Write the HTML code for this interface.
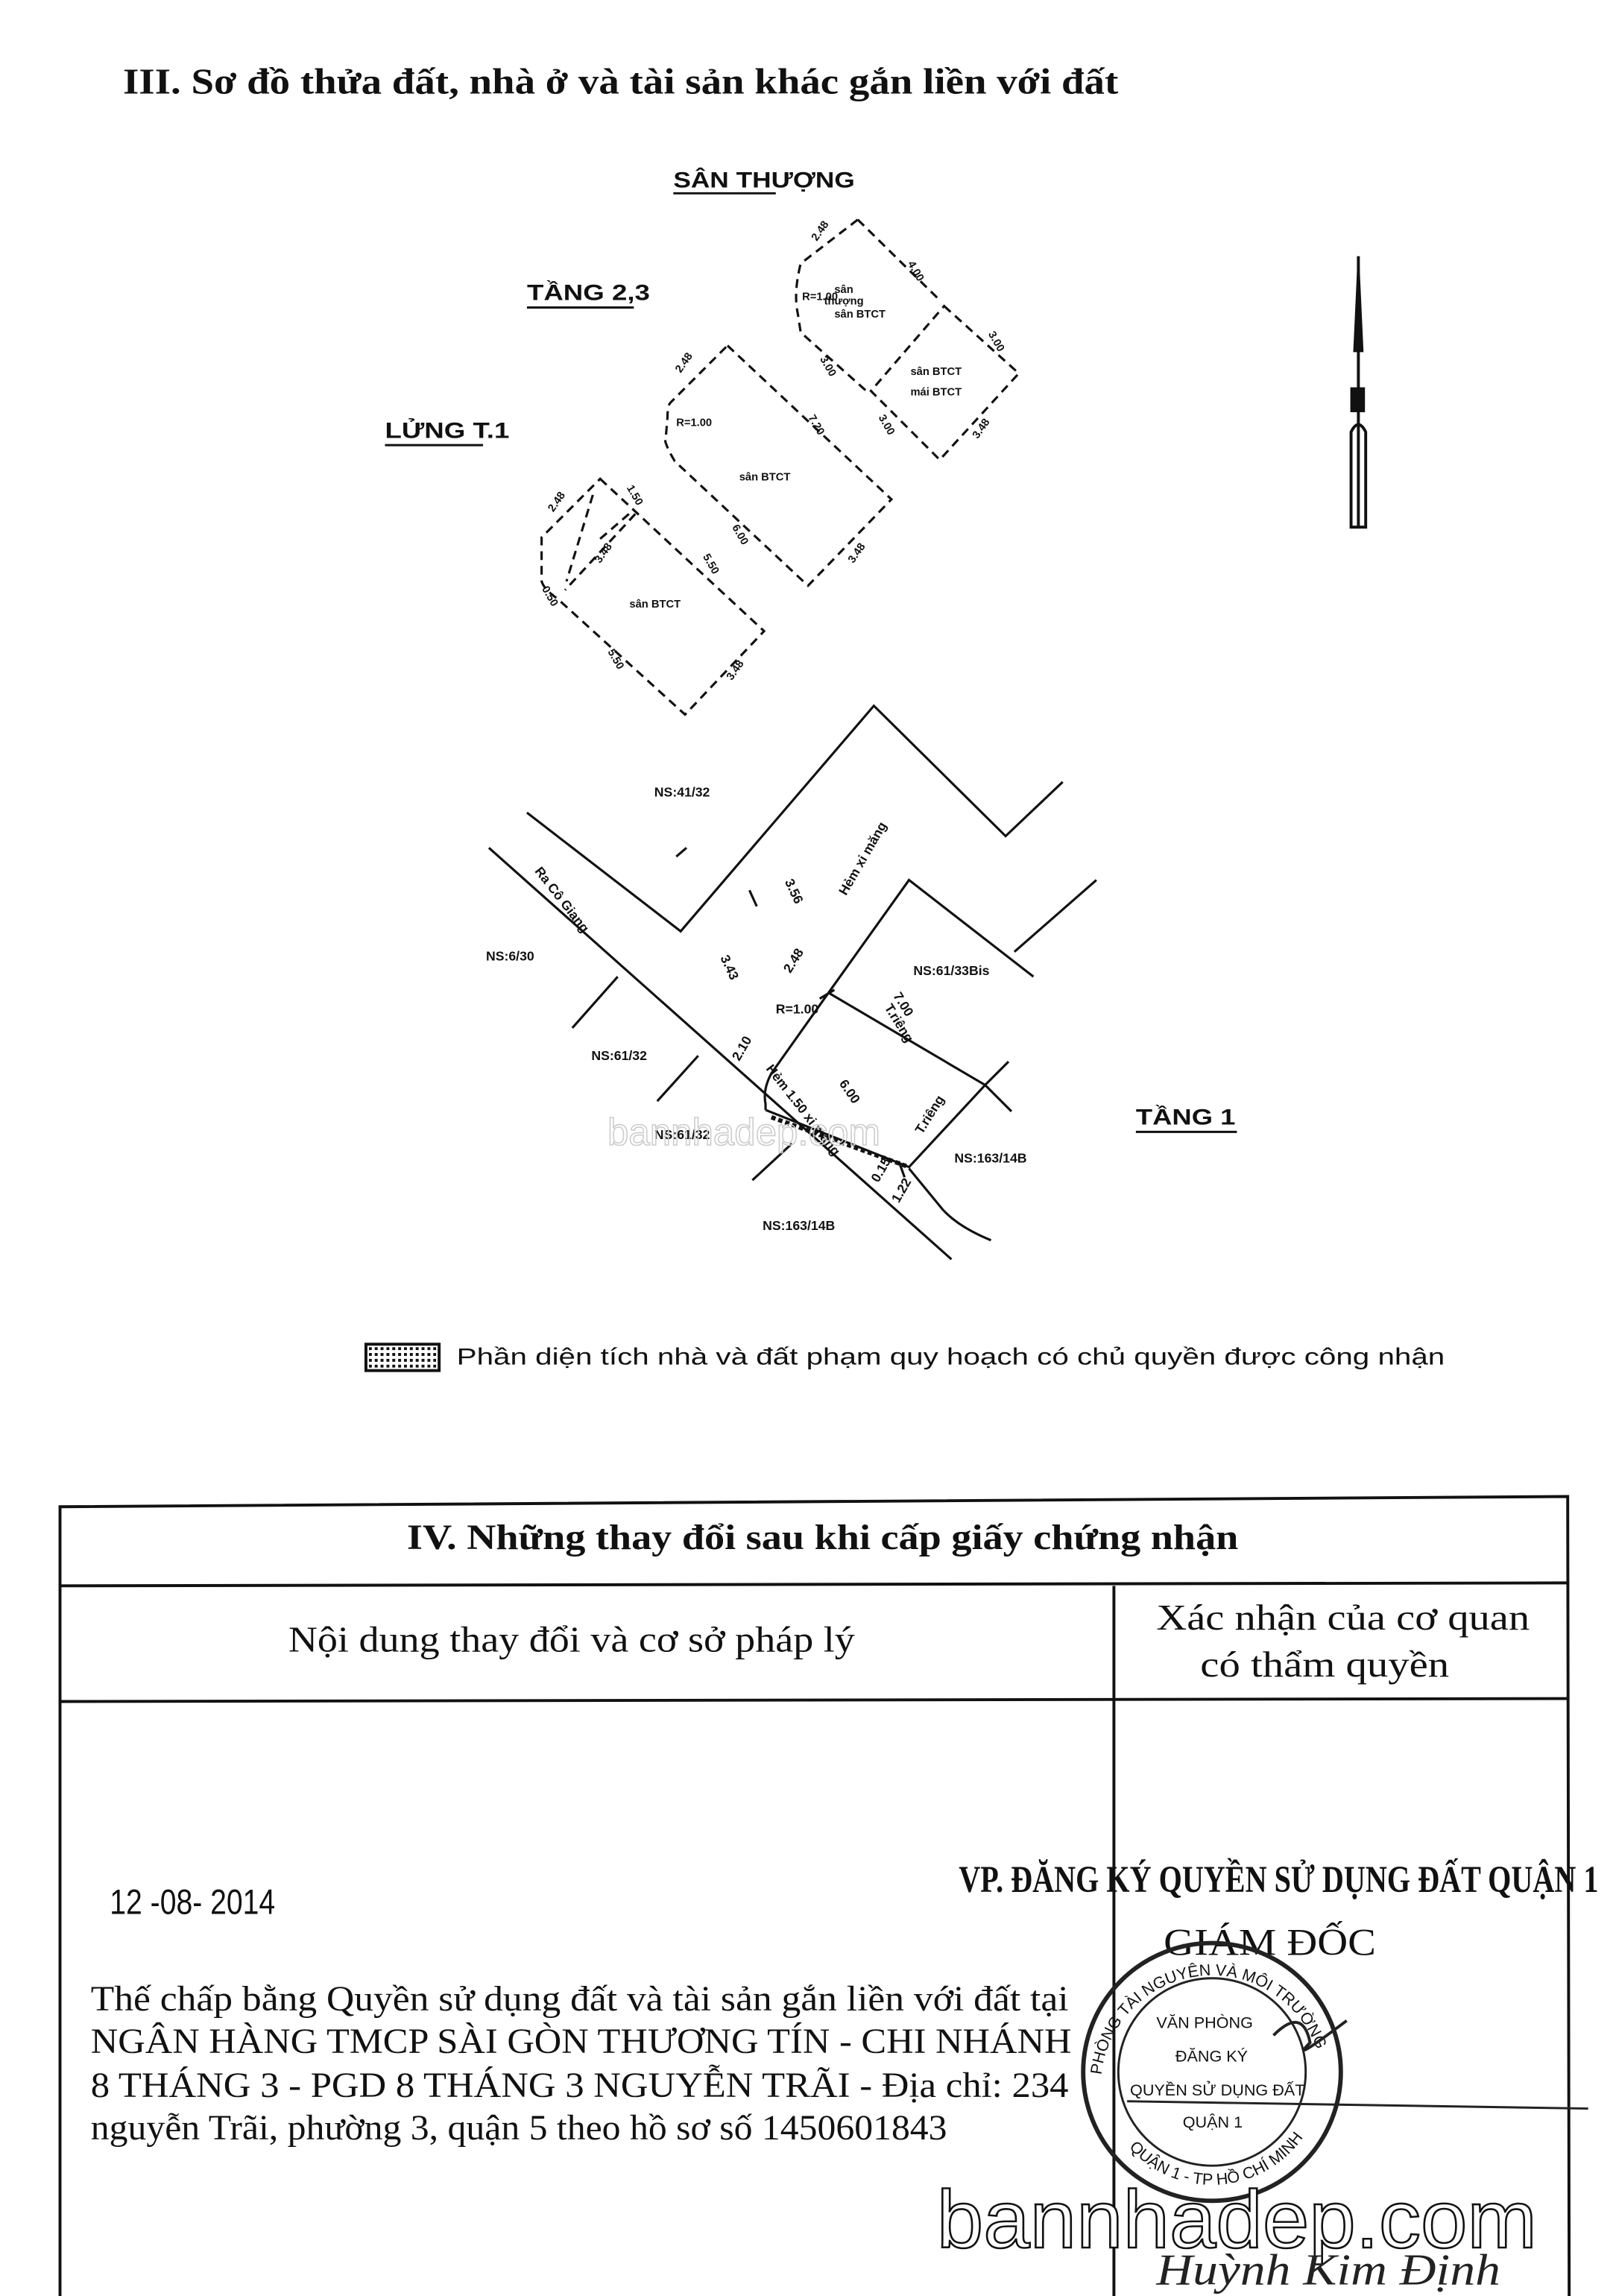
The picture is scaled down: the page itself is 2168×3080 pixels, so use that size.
<!DOCTYPE html>
<html><head><meta charset="utf-8"><style>
html,body{margin:0;padding:0;background:#fff;}
svg{display:block;}
.s{font-family:"Liberation Sans","DejaVu Sans",sans-serif;font-weight:bold;fill:#111;}
.n{font-family:"Liberation Sans","DejaVu Sans",sans-serif;font-weight:normal;fill:#111;}
.r{font-family:"Liberation Serif","DejaVu Serif",serif;fill:#111;}
</style></head><body>
<svg width="2168" height="3080" viewBox="0 0 1104 1568" preserveAspectRatio="none" xmlns="http://www.w3.org/2000/svg">
<rect width="1104" height="1568" fill="#fff"/>
<text class="r" x="84" y="64" font-size="25" font-weight="bold" textLength="680" lengthAdjust="spacingAndGlyphs">III. Sơ đồ thửa đất, nhà ở và tài sản khác gắn liền với đất</text>

<text class="s" x="460" y="128" font-size="15" textLength="124" lengthAdjust="spacingAndGlyphs">SÂN THƯỢNG</text>
<line x1="460" y1="132" x2="530" y2="132" stroke="#111" stroke-width="1.5"/>
<text class="s" x="360" y="205" font-size="15" textLength="84" lengthAdjust="spacingAndGlyphs">TẦNG 2,3</text>
<line x1="360" y1="210" x2="433" y2="210" stroke="#111" stroke-width="1.5"/>
<text class="s" x="263" y="299" font-size="15" textLength="85" lengthAdjust="spacingAndGlyphs">LỬNG T.1</text>
<line x1="263" y1="304" x2="330" y2="304" stroke="#111" stroke-width="1.5"/>

<g fill="none" stroke="#111" stroke-width="1.6" stroke-dasharray="6,4">
<path d="M586,150 L643,206 M586,150 L547,180 Q542,200 545,214 L547,227 L593,268"/>
<path d="M645,209 L696,255 L642,314 L595,267 Z"/>
<path d="M497,236 L609,341 L552,400 L461,315 Q452,300 455,297 L456,285 Q456,277 458,275 Z"/>
<path d="M410,327 L522,431 L468,488 L381,409 Q368,400 370,393 L370,367 Z"/>
<path d="M434,351 L386,403 M405,338 L387,397 M410,368 L432,349"/>
</g>
<g class="s" font-size="7.5">
<text x="570" y="200">sân</text><text x="563" y="208">thượng</text><text x="570" y="217">sân BTCT</text>
<text x="622" y="256">sân BTCT</text><text x="622" y="270">mái BTCT</text>
<text x="505" y="328">sân BTCT</text>
<text x="430" y="415">sân BTCT</text>
<text x="548" y="205">R=1.00</text><text x="462" y="291">R=1.00</text>
<text x="620" y="180" transform="rotate(60 620 180)">4.00</text>
<text x="558" y="165" transform="rotate(-55 558 165)">2.48</text>
<text x="675" y="228" transform="rotate(60 675 228)">3.00</text>
<text x="600" y="285" transform="rotate(60 600 285)">3.00</text>
<text x="560" y="245" transform="rotate(60 560 245)">3.00</text>
<text x="668" y="300" transform="rotate(-55 668 300)">3.48</text>
<text x="465" y="255" transform="rotate(-55 465 255)">2.48</text>
<text x="552" y="285" transform="rotate(60 552 285)">7.20</text>
<text x="500" y="360" transform="rotate(60 500 360)">6.00</text>
<text x="583" y="385" transform="rotate(-55 583 385)">3.48</text>
<text x="378" y="350" transform="rotate(-55 378 350)">2.48</text>
<text x="428" y="333" transform="rotate(60 428 333)">1.50</text>
<text x="410" y="385" transform="rotate(-55 410 385)">3.48</text>
<text x="480" y="380" transform="rotate(60 480 380)">5.50</text>
<text x="415" y="445" transform="rotate(60 415 445)">5.50</text>
<text x="370" y="402" transform="rotate(60 370 402)">0.50</text>
<text x="500" y="465" transform="rotate(-55 500 465)">3.48</text>
</g>

<g fill="none" stroke="#111" stroke-width="1.6">
<path d="M360,555 L465,636 L597,482 L687,571 L726,534"/>
<path d="M334,579 L650,860"/>
<path d="M422,667 L391,702 M477,721 L449,752 M541,781 L514,806"/>
<path d="M566,678 L621,601 L706,667 M693,650 L749,601"/>
<path d="M566,678 L673,741 M566,678 L527,733 Q521,744 523,754 L523,758"/>
<path d="M523,758 L621,797 L673,741 M673,741 L691,759 M673,741 L689,725"/>
<path d="M621,798 L644,826 Q655,838 677,847"/>
<path d="M512,608 L517,619 M462,585 L469,579 M560,682 L570,676 M614,793 L618,804"/>
</g>
<path d="M527,763 L621,797" stroke="#111" stroke-width="3" stroke-dasharray="3,2" fill="none"/>
<g class="s" font-size="9">
<text x="447" y="544">NS:41/32</text>
<text x="332" y="656">NS:6/30</text>
<text x="624" y="666">NS:61/33Bis</text>
<text x="404" y="724">NS:61/32</text>
<text x="447" y="778">NS:61/32</text>
<text x="652" y="794">NS:163/14B</text>
<text x="521" y="840">NS:163/14B</text>
<text x="530" y="692">R=1.00</text>
<text x="578" y="612" transform="rotate(-60 578 612)">Hẻm xi măng</text>
<text x="365" y="595" transform="rotate(52 365 595)">Ra Cô Giang</text>
<text x="523" y="730" transform="rotate(52 523 730)">Hẻm 1.50 xi măng</text>
<text x="610" y="680" transform="rotate(58 610 680)">7.00</text>
<text x="604" y="688" transform="rotate(58 604 688)">T.riêng</text>
<text x="630" y="775" transform="rotate(-58 630 775)">T.riêng</text>
<text x="573" y="740" transform="rotate(55 573 740)">6.00</text>
<text x="536" y="602" transform="rotate(65 536 602)">3.56</text>
<text x="492" y="654" transform="rotate(65 492 654)">3.43</text>
<text x="540" y="665" transform="rotate(-58 540 665)">2.48</text>
<text x="505" y="725" transform="rotate(-60 505 725)">2.10</text>
<text x="600" y="808" transform="rotate(-60 600 808)">0.15</text>
<text x="614" y="822" transform="rotate(-60 614 822)">1.22</text>
</g>
<text class="s" x="776" y="768" font-size="15" textLength="68" lengthAdjust="spacingAndGlyphs">TẦNG 1</text>
<line x1="776" y1="773" x2="845" y2="773" stroke="#111" stroke-width="1.5"/>
<text x="415" y="782" font-family="Liberation Sans,sans-serif" font-size="26" fill="none" stroke="#ccc" stroke-width="0.8">bannhadep.com</text>

<g stroke="#111" fill="#111">
<path d="M928,175 L925,240 L931,240 Z"/>
<line x1="928" y1="175" x2="928" y2="360" stroke-width="2"/>
<rect x="923" y="265" width="9" height="16"/>
<path d="M923,295 Q928,285 933,295 L933,360 L923,360 Z" fill="none" stroke-width="2"/>
</g>

<rect x="250" y="918" width="50" height="18" fill="#fff" stroke="#111" stroke-width="2"/>
<pattern id="h" width="4" height="4" patternUnits="userSpaceOnUse"><rect width="2" height="2" fill="#111"/></pattern>
<rect x="252" y="920" width="46" height="14" fill="url(#h)"/>
<text class="n" x="312" y="932" font-size="16" textLength="675" lengthAdjust="spacingAndGlyphs">Phần diện tích nhà và đất phạm quy hoạch có chủ quyền được công nhận</text>

<g stroke="#111" stroke-width="2" fill="none">
<path d="M41,1568 L41,1029 L1071,1022 L1072,1568"/>
<line x1="41" y1="1083" x2="1072" y2="1081"/>
<line x1="41" y1="1162" x2="1072" y2="1160"/>
<line x1="761" y1="1083" x2="761" y2="1568"/>
</g>
<text class="r" x="278" y="1058" font-size="24" font-weight="bold" textLength="568" lengthAdjust="spacingAndGlyphs">IV. Những thay đổi sau khi cấp giấy chứng nhận</text>
<text class="r" x="197" y="1128" font-size="25" textLength="387" lengthAdjust="spacingAndGlyphs">Nội dung thay đổi và cơ sở pháp lý</text>
<text class="r" x="790" y="1113" font-size="25" textLength="255" lengthAdjust="spacingAndGlyphs">Xác nhận của cơ quan</text>
<text class="r" x="820" y="1145" font-size="25" textLength="170" lengthAdjust="spacingAndGlyphs">có thẩm quyền</text>
<text class="n" x="75" y="1307" font-size="24" textLength="113" lengthAdjust="spacingAndGlyphs">12 -08- 2014</text>
<text class="r" x="655" y="1292" font-size="26" font-weight="bold" textLength="437" lengthAdjust="spacingAndGlyphs">VP. ĐĂNG KÝ QUYỀN SỬ DỤNG ĐẤT QUẬN 1</text>
<text class="r" x="795" y="1335" font-size="26" textLength="145" lengthAdjust="spacingAndGlyphs">GIÁM ĐỐC</text>
<g class="r" font-size="24">
<text x="62" y="1373" textLength="668" lengthAdjust="spacingAndGlyphs">Thế chấp bằng Quyền sử dụng đất và tài sản gắn liền với đất tại</text>
<text x="62" y="1402" textLength="670" lengthAdjust="spacingAndGlyphs">NGÂN HÀNG TMCP SÀI GÒN THƯƠNG TÍN - CHI NHÁNH</text>
<text x="62" y="1432" textLength="668" lengthAdjust="spacingAndGlyphs">8 THÁNG 3 - PGD 8 THÁNG 3 NGUYỄN TRÃI - Địa chỉ: 234</text>
<text x="62" y="1461" textLength="585" lengthAdjust="spacingAndGlyphs">nguyễn Trãi, phường 3, quận 5 theo hồ sơ số 1450601843</text>
</g>
<g fill="none" stroke="#222">
<circle cx="828" cy="1415" r="88" stroke-width="3"/>
<circle cx="828" cy="1415" r="64" stroke-width="1.5"/>
</g>
<g class="n" font-size="11">
<text x="790" y="1385">VĂN PHÒNG</text>
<text x="803" y="1408">ĐĂNG KÝ</text>
<text x="772" y="1431">QUYỀN SỬ DỤNG ĐẤT</text>
<text x="808" y="1453">QUẬN 1</text>
</g>
<path id="arcT" d="M752,1425 A76,76 0 0,1 904,1425" fill="none"/>
<path id="arcB" d="M760,1450 A76,76 0 0,0 896,1450" fill="none"/>
<text class="n" font-size="11"><textPath href="#arcT" startOffset="8">PHÒNG TÀI NGUYÊN VÀ MÔI TRƯỜNG</textPath></text>
<text class="n" font-size="11"><textPath href="#arcB" startOffset="20">QUẬN 1 - TP HỒ CHÍ MINH</textPath></text>
<path d="M870,1390 Q890,1370 895,1395 Q880,1410 920,1380" stroke="#222" stroke-width="2" fill="none"/>
<line x1="770" y1="1435" x2="1085" y2="1440" stroke="#222" stroke-width="1.5"/>
<text x="640" y="1535" font-family="Liberation Sans,sans-serif" font-size="56" fill="#fff" stroke="#111" stroke-width="1.3" textLength="410" lengthAdjust="spacingAndGlyphs">bannhadep.com</text>
<text x="790" y="1560" font-family="Liberation Serif,serif" font-style="italic" font-size="30" fill="#222" textLength="235" lengthAdjust="spacingAndGlyphs">Huỳnh Kim Định</text>
</svg>
</body></html>
